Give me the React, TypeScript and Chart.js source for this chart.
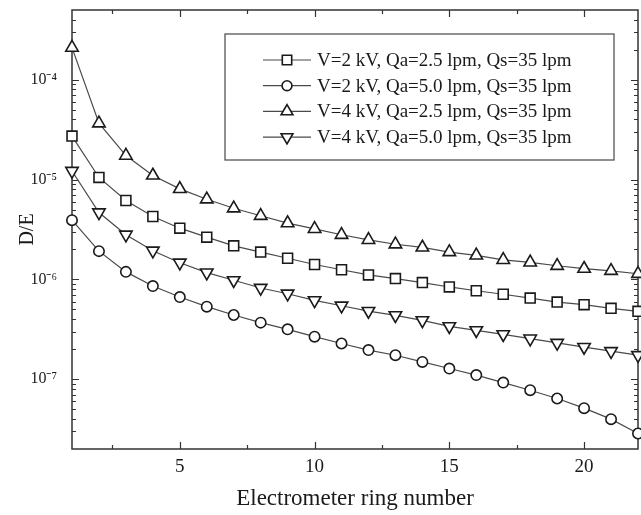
import React, { useEffect, useRef } from 'react';
import { Chart, registerables } from 'chart.js';
import { drawPoint } from 'chart.js/helpers';

Chart.register(...registerables);

// ---------- data ----------
const ringNumbers = [1, 2, 3, 4, 5, 6, 7, 8, 9, 10, 11, 12, 13, 14, 15, 16, 17, 18, 19, 20, 21, 22];

const seriesLabels = [
  'V=2 kV, Qa=2.5 lpm, Qs=35 lpm',
  'V=2 kV, Qa=5.0 lpm, Qs=35 lpm',
  'V=4 kV, Qa=2.5 lpm, Qs=35 lpm',
  'V=4 kV, Qa=5.0 lpm, Qs=35 lpm',
];

const v2kvQa25 = [
  2.73e-5, 1.05e-5, 6.17e-6, 4.27e-6, 3.26e-6, 2.65e-6, 2.17e-6, 1.88e-6, 1.63e-6, 1.41e-6, 1.25e-6,
  1.11e-6, 1.02e-6, 9.3e-7, 8.4e-7, 7.7e-7, 7.1e-7, 6.5e-7, 5.93e-7, 5.58e-7, 5.13e-7, 4.79e-7,
];
const v2kvQa50 = [
  3.92e-6, 1.92e-6, 1.19e-6, 8.58e-7, 6.66e-7, 5.33e-7, 4.4e-7, 3.69e-7, 3.16e-7, 2.67e-7, 2.28e-7,
  1.96e-7, 1.74e-7, 1.49e-7, 1.28e-7, 1.1e-7, 9.26e-8, 7.76e-8, 6.41e-8, 5.13e-8, 3.98e-8, 2.86e-8,
];
const v4kvQa25 = [
  2.1e-4, 3.67e-5, 1.74e-5, 1.1e-5, 8.07e-6, 6.35e-6, 5.16e-6, 4.34e-6, 3.66e-6, 3.21e-6, 2.8e-6,
  2.49e-6, 2.25e-6, 2.09e-6, 1.88e-6, 1.74e-6, 1.57e-6, 1.48e-6, 1.37e-6, 1.28e-6, 1.22e-6, 1.14e-6,
];
const v4kvQa50 = [
  1.22e-5, 4.68e-6, 2.8e-6, 1.94e-6, 1.47e-6, 1.17e-6, 9.8e-7, 8.2e-7, 7.19e-7, 6.17e-7, 5.45e-7,
  4.82e-7, 4.37e-7, 3.89e-7, 3.39e-7, 3.09e-7, 2.82e-7, 2.55e-7, 2.31e-7, 2.1e-7, 1.91e-7, 1.74e-7,
];

const xTickValues = [5, 10, 15, 20];
const xTickLabels = ['5', '10', '15', '20'];
const yTickValues = [1e-7, 1e-6, 1e-5, 1e-4];
const yTickLabels = ['10⁻⁷', '10⁻⁶', '10⁻⁵', '10⁻⁴'];

const xMin = 1;
const xMax = 22;
const yMin = 2e-8;
const yMax = 5e-4;

// ---------- styles ----------
const FONT = "'Liberation Serif', 'Times New Roman', serif";
const LINE_COLOR = '#4a4a4a';
const MARK_COLOR = '#1a1a1a';
const AXIS_COLOR = '#333333';

const markerStyles = [
  { pointStyle: 'rect', rotation: 0, radius: 7 },
  { pointStyle: 'circle', rotation: 0, radius: 5.2 },
  { pointStyle: 'triangle', rotation: 0, radius: 7.2 },
  { pointStyle: 'triangle', rotation: 180, radius: 7.2 },
];

const seriesValues = [v2kvQa25, v2kvQa50, v4kvQa25, v4kvQa50];

const zeroPadding = (scale: any) => {
  scale.paddingTop = 0;
  scale.paddingBottom = 0;
  scale.paddingLeft = 0;
  scale.paddingRight = 0;
};

const framePlugin = {
  id: 'frame',
  beforeDatasetsDraw(chart: any) {
    const { ctx, chartArea, scales } = chart;
    const { left, right, top, bottom } = chartArea;
    const x = scales.x;
    const y = scales.y;
    ctx.save();
    ctx.strokeStyle = AXIS_COLOR;
    ctx.lineWidth = 1.2;
    ctx.beginPath();
    for (let v = 2.5; v < xMax; v += 2.5) {
      const px = Math.round(x.getPixelForValue(v)) + 0.5;
      const len = v % 5 === 0 ? 7 : 4;
      ctx.moveTo(px, bottom);
      ctx.lineTo(px, bottom - len);
      ctx.moveTo(px, top);
      ctx.lineTo(px, top + len);
    }
    for (let e = -9; e <= -3; e++) {
      for (let k = 1; k <= 9; k++) {
        const v = k * Math.pow(10, e);
        if (v <= yMin * 1.0001 || v >= yMax * 0.9999) continue;
        const py = Math.round(y.getPixelForValue(v)) + 0.5;
        const len = k === 1 ? 7 : 4;
        ctx.moveTo(left, py);
        ctx.lineTo(left + len, py);
        ctx.moveTo(right, py);
        ctx.lineTo(right - len, py);
      }
    }
    ctx.stroke();
    ctx.lineWidth = 1.5;
    ctx.strokeRect(left, top, right - left, bottom - top);
    ctx.restore();
  },
};

const legendPlugin = {
  id: 'boxLegend',
  afterDraw(chart: any) {
    const { ctx, chartArea } = chart;
    const boxRight = chartArea.right - 24;
    const boxLeft = boxRight - 389;
    const boxTop = chartArea.top + 24;
    const boxBottom = boxTop + 126;
    ctx.save();
    ctx.fillStyle = '#ffffff';
    ctx.fillRect(boxLeft, boxTop, boxRight - boxLeft, boxBottom - boxTop);
    ctx.strokeStyle = '#555555';
    ctx.lineWidth = 1.3;
    ctx.strokeRect(boxLeft, boxTop, boxRight - boxLeft, boxBottom - boxTop);
    const lineX0 = boxLeft + 38;
    const lineX1 = boxLeft + 86;
    const markX = boxLeft + 62;
    const textX = boxLeft + 92;
    ctx.font = `19px ${FONT}`;
    ctx.textBaseline = 'middle';
    ctx.textAlign = 'left';
    seriesLabels.forEach((label, i) => {
      const yy = boxTop + 26 + i * 25.7;
      ctx.strokeStyle = LINE_COLOR;
      ctx.lineWidth = 1.2;
      ctx.beginPath();
      ctx.moveTo(lineX0, yy);
      ctx.lineTo(lineX1, yy);
      ctx.stroke();
      ctx.fillStyle = '#ffffff';
      ctx.strokeStyle = MARK_COLOR;
      ctx.lineWidth = 1.6;
      const m = markerStyles[i];
      drawPoint(ctx, { pointStyle: m.pointStyle, rotation: m.rotation, radius: m.radius * 0.95, borderWidth: 1.6 } as any, markX, yy);
      ctx.fillStyle = '#1a1a1a';
      ctx.fillText(label, textX, yy + 1);
    });
    ctx.restore();
  },
};

export default function App() {
  const canvasRef = useRef<HTMLCanvasElement | null>(null);

  useEffect(() => {
    if (!canvasRef.current) return;
    const datasets = seriesValues.map((vals, i) => ({
      label: seriesLabels[i],
      data: ringNumbers.map((r, j) => ({ x: r, y: vals[j] })),
      borderColor: LINE_COLOR,
      borderWidth: 1.2,
      tension: 0,
      fill: false,
      pointStyle: markerStyles[i].pointStyle as any,
      pointRotation: markerStyles[i].rotation,
      pointRadius: markerStyles[i].radius,
      pointBorderWidth: 1.6,
      pointBorderColor: MARK_COLOR,
      pointBackgroundColor: '#ffffff',
      clip: false as any,
    }));

    const chart = new Chart(canvasRef.current, {
      type: 'line',
      data: { datasets },
      plugins: [framePlugin, legendPlugin],
      options: {
        animation: false,
        responsive: true,
        maintainAspectRatio: false,
        layout: { autoPadding: false, padding: { top: 10, right: 3, left: 0, bottom: 0 } },
        plugins: {
          legend: { display: false },
          tooltip: { enabled: false },
        },
        scales: {
          x: {
            type: 'linear',
            min: xMin,
            max: xMax,
            grid: { display: false, drawTicks: false },
            border: { display: false },
            afterBuildTicks: (scale: any) => {
              scale.ticks = xTickValues.map((v) => ({ value: v }));
            },
            afterFit: (scale: any) => {
              scale.height = 66;
              zeroPadding(scale);
            },
            ticks: {
              autoSkip: false,
              maxRotation: 0,
              padding: 6.6,
              color: '#1a1a1a',
              font: { family: FONT, size: 19 },
              callback: (v: any) => {
                const idx = xTickValues.indexOf(Number(v));
                return idx >= 0 ? xTickLabels[idx] : '';
              },
            },
            title: {
              display: true,
              text: 'Electrometer ring number',
              color: '#1a1a1a',
              font: { family: FONT, size: 23 },
              padding: { top: 0, bottom: 2 },
            },
          },
          y: {
            type: 'logarithmic',
            min: yMin,
            max: yMax,
            grid: { display: false, drawTicks: false },
            border: { display: false },
            afterBuildTicks: (scale: any) => {
              scale.ticks = yTickValues.map((v) => ({ value: v, major: true }));
            },
            afterFit: (scale: any) => {
              scale.width = 72;
              zeroPadding(scale);
            },
            ticks: {
              autoSkip: false,
              padding: 15,
              color: '#1a1a1a',
              font: { family: FONT, size: 16 },
              callback: (v: any) => {
                const idx = yTickValues.findIndex((t) => Math.abs(t - Number(v)) / t < 1e-6);
                return idx >= 0 ? yTickLabels[idx] : '';
              },
            },
            title: {
              display: true,
              text: 'D/E',
              color: '#1a1a1a',
              font: { family: FONT, size: 20 },
              padding: { top: 16, bottom: 0 },
            },
          },
        },
      },
    });
    return () => chart.destroy();
  }, []);

  return (
    <div style={{ position: 'fixed', left: 0, top: 0, width: 641, height: 515, background: '#ffffff' }}>
      <canvas ref={canvasRef} />
    </div>
  );
}
